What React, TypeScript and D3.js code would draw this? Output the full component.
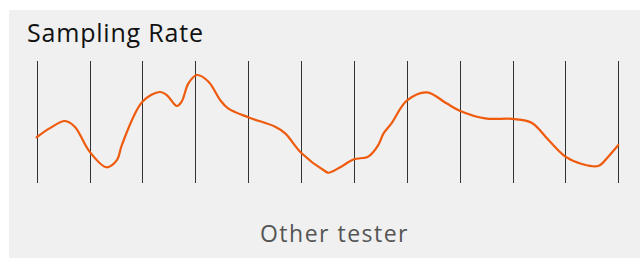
import React from 'react';
import * as d3 from 'd3';

// tick slots (vertical guide lines)
const slots = d3.range(12);

const sampleTimes = [
  0, 0.25, 0.535, 0.72, 1.0, 1.32, 1.52, 1.61, 2.0, 2.33, 2.46, 2.65, 2.74, 2.87,
  3.03, 3.25, 3.47, 3.62, 4.0, 4.51, 4.7, 5.0, 5.45, 5.52, 5.74, 6.0, 6.27, 6.46,
  6.56, 6.71, 7.0, 7.38, 7.75, 8.0, 8.48, 9.0, 9.36, 9.68, 10.0, 10.31, 10.62, 10.81, 11.0,
];
const sampleRates = [
  37.5, 45, 50.8, 46.1, 25.7, 12.9, 18.9, 31.1, 66.6, 74.6, 72.1, 63.1, 66.6, 81.7,
  88.5, 83, 68, 61.2, 53.9, 46.1, 40.7, 24.8, 9.8, 8.4, 12.9, 19.4, 21.6, 31.1,
  40.7, 48.9, 67.5, 74.3, 65.3, 59.3, 53, 52.5, 49.4, 35.2, 21.6, 15.6, 13.9, 21.6, 31.1,
];

const title = 'Sampling Rate';
const xLabel = 'Other tester';

const W = 640;
const H = 258;

const App: React.FC = () => {
  const x = d3.scaleLinear().domain([0, 11]).range([36.7, 618.3]);
  const y = d3.scaleLinear().domain([0, 100]).range([183, 61]);

  const line = d3.line<number>()
    .x((_, i) => x(sampleTimes[i]))
    .y(d => y(d))
    .curve(d3.curveCatmullRom.alpha(0.5));

  return (
    <svg
      width={W}
      height={H}
      style={{ position: 'absolute', left: 0, top: 0 }}
    >
      <rect x={9} y={10} width={W - 9} height={H - 10} fill="#eff0ef" />
      <text
        x={27}
        y={41.7}
        fontFamily="'Open Sans', sans-serif"
        fontSize={25}
        letterSpacing={0.8}
        fill="#111"
      >
        {title}
      </text>

      {slots.map(s => (
        <line
          key={s}
          x1={Math.round(x(s)) + 0.5}
          x2={Math.round(x(s)) + 0.5}
          y1={y(100)}
          y2={y(0)}
          stroke="#333"
          strokeWidth={1}
        />
      ))}

      <path
        d={line(sampleRates) || ''}
        fill="none"
        stroke="#ef5a0c"
        strokeWidth={2.2}
        strokeLinecap="round"
      />

      <text
        x={334.5}
        y={241.7}
        textAnchor="middle"
        fontFamily="'Open Sans', sans-serif"
        fontSize={23}
        letterSpacing={1.5}
        fill="#555"
      >
        {xLabel}
      </text>
    </svg>
  );
};

export default App;
